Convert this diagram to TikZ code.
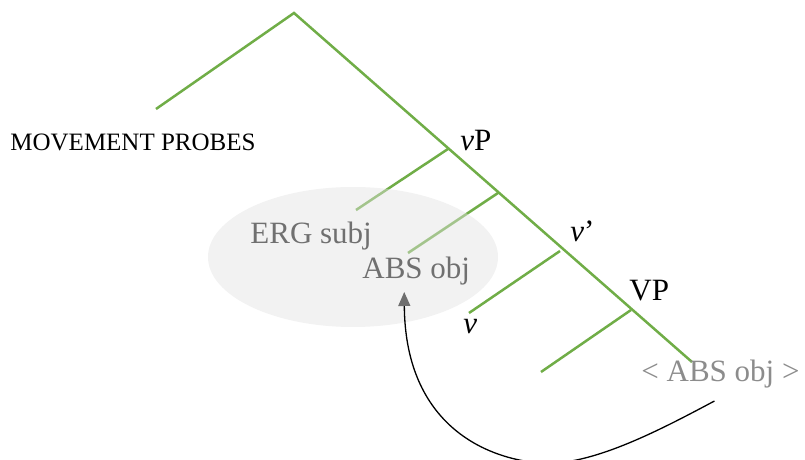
\documentclass[tikz,border=0pt]{standalone}
\usepackage{fontspec}
\setmainfont{Liberation Serif}
\usetikzlibrary{arrows.meta}
\definecolor{treegreen}{RGB}{112,173,71}
\definecolor{copygray}{RGB}{112,112,112}
\definecolor{tracegray}{RGB}{140,140,140}
\definecolor{bubblegray}{RGB}{226,226,226}
\definecolor{headgray}{RGB}{110,110,110}

\begin{document}
\begin{tikzpicture}[x=.5pt,y=-.5pt,
    branch/.style={treegreen,line width=1.25pt},
    lbl/.style={anchor=base west,inner sep=0pt,font=\fontsize{15.5}{18}\selectfont}]
  \useasboundingbox (0,0) rectangle (805,460);
  \coordinate (root) at (294,13);
  \coordinate (probes) at (156,109);
  \coordinate (bottom) at (692,362);
  \draw[branch] (probes)--(root)--(bottom);
  \foreach \n/\a/\b/\c/\d in {vp/448/149/356/210,vbar/498/193/408/253,
      vprime/560/251/469/313,bigvp/631/310/541/372} {
    \coordinate (j\n) at (\a,\b);
    \coordinate (e\n) at (\c,\d);
    \draw[branch] (j\n)--(e\n);
  }
  \fill[bubblegray,fill opacity=.45] (353,257) ellipse [x radius=145,y radius=70];
  \node[lbl,font=\fontsize{12.5}{15}\selectfont] (probeslbl) at (10,151) {MOVEMENT PROBES};
  \node[lbl] (vplbl) at (460,151) {\textit{v}P};
  \node[lbl,text=copygray] (ergsubj) at (250,244) {ERG subj};
  \node[lbl,text=copygray] (absobj) at (362,279) {ABS obj};
  \node[lbl] (vprimelbl) at (570,242) {\textit{v}’};
  \node[lbl] (bigvplbl) at (629,300) {VP};
  \node[lbl] (vlbl) at (463,334) {\textit{v}};
  \node[lbl,text=tracegray] (trace) at (641,382) {< ABS obj >};
  \draw[-{Triangle[length=7pt,width=6pt,color=headgray]},line width=.65pt]
    ([xshift=-3pt,yshift=-6pt]trace.south)
    .. controls (660,430) and (590,467) .. (540,463)
    .. controls (480,458) and (405,420) .. ([xshift=-6pt,yshift=-3pt]absobj.south);
\end{tikzpicture}
\end{document}
